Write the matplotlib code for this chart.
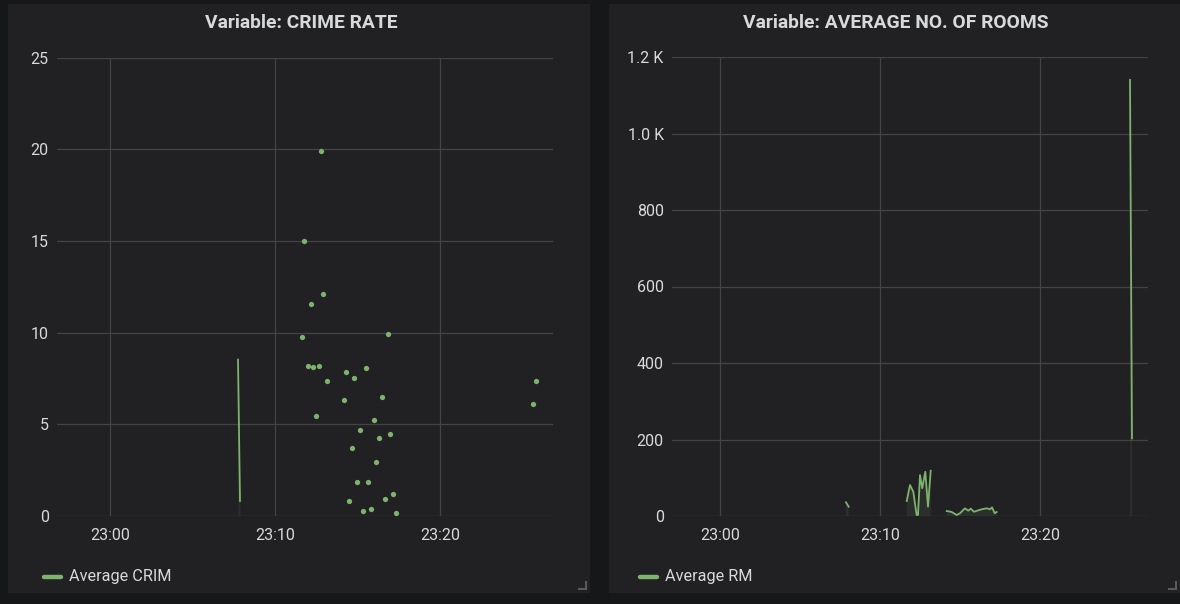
import numpy as np
import matplotlib
matplotlib.use("Agg")
import matplotlib.pyplot as plt
from matplotlib.lines import Line2D
from matplotlib.patches import Rectangle
from matplotlib.ticker import FuncFormatter

plt.rcParams['font.family'] = ['Roboto', 'DejaVu Sans']

# ---- data (time = minutes after 23:00) ----
crim_line_t = [7.76, 7.88]
crim_line_v = [8.53, 0.82]

crim_pts_t = [12.79, 11.76, 12.91, 12.18, 11.65, 16.83, 11.98, 12.32, 12.67, 13.15,
              14.32, 14.81, 15.50, 14.16, 16.48, 12.48, 15.98, 15.15, 16.32, 16.99,
              14.65, 16.14, 14.99, 15.65, 17.15, 16.65, 14.48, 15.31, 15.82, 17.32,
              25.82, 25.65]
crim_pts_v = [19.91, 15.00, 12.11, 11.57, 9.78, 9.93, 8.18, 8.11, 8.20, 7.35,
              7.86, 7.51, 8.09, 6.31, 6.49, 5.46, 5.25, 4.69, 4.27, 4.47,
              3.71, 2.95, 1.84, 1.84, 1.20, 0.93, 0.82, 0.27, 0.38, 0.16,
              7.38, 6.13]

# None separates disconnected segments
rm_t = [7.875, 8.04, None,
        11.67, 11.875, 12.08, 12.29, 12.375, 12.5, 12.64, 12.83, 13.0, 13.17, None,
        14.17, 14.48, 14.79, 15.0, 15.31, 15.52, 15.67, 15.875, 16.08, 16.35,
        16.67, 16.875, 17.0, 17.17, 17.29, None,
        25.625, 25.75]
rm_v = [35.8, 24.3, None,
        39.2, 81.0, 63.5, 2.6, 2.6, 107.0, 72.4, 115.8, 24.3, 118.4, None,
        13.1, 10.5, 2.6, 7.1, 20.1, 13.9, 19.1, 11.2, 13.9, 17.5,
        20.1, 17.5, 22.7, 7.1, 10.5, None,
        1140.0, 203.0]

x_ticks = [0, 10, 20]
x_labels = ["23:00", "23:10", "23:20"]
crim_yticks = [0, 5, 10, 15, 20, 25]
rm_yticks = [0, 200, 400, 600, 800, 1000, 1200]

titles = ["Variable: CRIME RATE", "Variable: AVERAGE NO. OF ROOMS"]
legends = ["Average CRIM", "Average RM"]

# ---- style ----
W, H = 1180, 604
PAGE = '#161719'
PANEL = '#212124'
GRID = '#434346'
TEXT = '#d8d9da'
GREEN = '#7eb26d'

fig = plt.figure(figsize=(W / 100, H / 100), dpi=100)
fig.patch.set_facecolor(PAGE)


def px_rect(x0, y0, x1, y1):
    return [x0 / W, 1 - y1 / H, (x1 - x0) / W, (y1 - y0) / H]


# panels
for (x0, x1) in [(8, 590), (609, 1180)]:
    fig.patches.append(Rectangle((x0 / W, 1 - 593 / H), (x1 - x0) / W, (593 - 4) / H,
                                 transform=fig.transFigure, facecolor=PANEL,
                                 edgecolor='none', zorder=-5))

ax1 = fig.add_axes(px_rect(57, 57.7, 553, 516))
ax2 = fig.add_axes(px_rect(672, 57, 1148, 516))


def style(ax, xlim, ylim, yticks, fmt):
    ax.set_facecolor('none')
    for s in ax.spines.values():
        s.set_visible(False)
    ax.set_xlim(*xlim)
    ax.set_ylim(*ylim)
    ax.set_xticks(x_ticks)
    ax.set_xticklabels(x_labels)
    ax.set_yticks(yticks)
    ax.yaxis.set_major_formatter(FuncFormatter(fmt))
    ax.grid(True, color=GRID, linewidth=0.9)
    ax.set_axisbelow(True)
    ax.tick_params(length=0, colors=TEXT, labelsize=11.5)
    ax.tick_params(axis='x', pad=9)
    ax.tick_params(axis='y', pad=6)


style(ax1, (-3.21, 26.85), (0, 25), crim_yticks, lambda v, p: f"{v:g}")


def kfmt(v, p):
    if v >= 1000:
        return f"{v / 1000:.1f} K"
    return f"{v:g}"


style(ax2, (-3.0, 26.75), (0, 1200), rm_yticks, kfmt)

# left panel
t1 = np.array(crim_line_t, dtype=float)
v1 = np.array(crim_line_v, dtype=float)
ax1.fill_between(t1, v1, 0, color=GREEN, alpha=0.1, linewidth=0)
ax1.plot(t1, v1, color=GREEN, linewidth=1.3)
ax1.plot(crim_pts_t, crim_pts_v, linestyle='none', marker='o', markersize=3.8,
         color=GREEN, markeredgewidth=0)

# right panel
t2 = np.array([np.nan if t is None else t for t in rm_t], dtype=float)
v2 = np.array([np.nan if v is None else v for v in rm_v], dtype=float)
ax2.fill_between(t2, v2, 0, color=GREEN, alpha=0.1, linewidth=0)
ax2.plot(t2, v2, color=GREEN, linewidth=1.3)

# titles
fig.text(301.5 / W, 1 - 23 / H, titles[0], ha='center', va='center',
         color=TEXT, fontsize=13.9, fontweight='bold')
fig.text(895.5 / W, 1 - 23 / H, titles[1], ha='center', va='center',
         color=TEXT, fontsize=13.9, fontweight='bold')

# legends
for (sx0, sx1, tx), lab in zip([(44, 61, 69), (640, 657, 665)], legends):
    fig.add_artist(Line2D([sx0 / W, sx1 / W], [1 - 577 / H, 1 - 577 / H],
                          transform=fig.transFigure, color=GREEN, linewidth=3.2,
                          solid_capstyle='round'))
    fig.text(tx / W, 1 - 577 / H, lab, ha='left', va='center', color=TEXT,
             fontsize=11.7)

# resize handles
for xr in [586, 1176]:
    fig.add_artist(Line2D([xr / W, xr / W], [1 - 582 / H, 1 - 589 / H],
                          transform=fig.transFigure, color='#5a5a5c', linewidth=1.5))
    fig.add_artist(Line2D([(xr - 7) / W, xr / W], [1 - 589 / H, 1 - 589 / H],
                          transform=fig.transFigure, color='#5a5a5c', linewidth=1.5))

fig.savefig('out.png', dpi=100, facecolor=PAGE)
